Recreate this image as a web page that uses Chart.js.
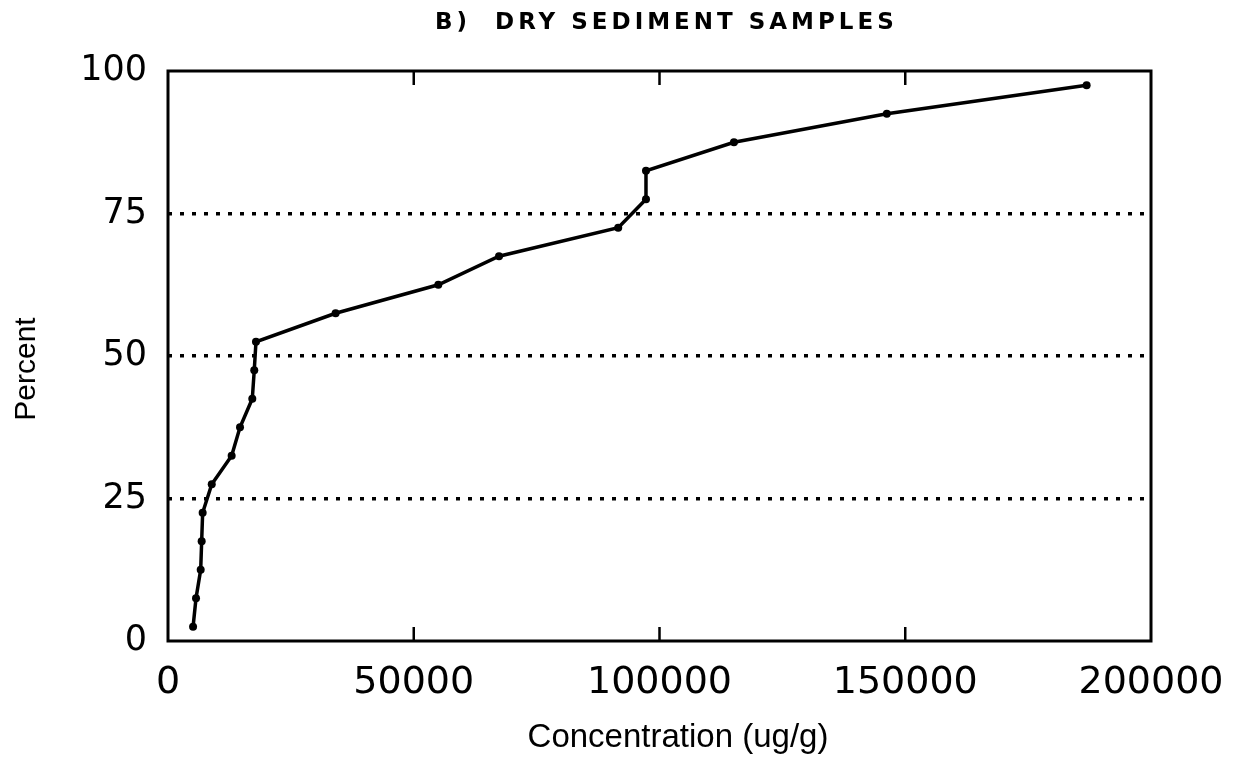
<!DOCTYPE html>
<html>
<head>
<meta charset="utf-8">
<script src="https://cdn.jsdelivr.net/npm/chart.js@4"></script>
<style>
  html, body { margin: 0; padding: 0; background: #fff; }
  #wrap { width: 1235px; height: 764px; }
</style>
</head>
<body>
<div id="wrap"><canvas id="c" width="1235" height="764"></canvas></div>
<script>
const concentration = [5100, 5700, 6650, 6850, 7050, 8900, 12950, 14650, 17150, 17550, 17900, 34100, 55000, 67350, 91600, 97250, 97250, 115150, 146250, 186900];
const percent = [2.5, 7.5, 12.5, 17.5, 22.5, 27.5, 32.5, 37.5, 42.5, 47.5, 52.5, 57.5, 62.5, 67.5, 72.5, 77.5, 82.5, 87.5, 92.5, 97.5];
const xTicks = [0, 50000, 100000, 150000, 200000];
const yTicks = [0, 25, 50, 75, 100];
const chartTitle = 'B)  DRY SEDIMENT SAMPLES';
const xTitle = 'Concentration (ug/g)';
const yTitle = 'Percent';

const points = concentration.map((x, i) => ({ x: x, y: percent[i] }));

const framePlugin = {
  id: 'frame',
  afterDraw(chart) {
    const { ctx, chartArea: a, scales } = chart;
    ctx.save();
    ctx.strokeStyle = '#000';
    ctx.lineWidth = 3;
    ctx.strokeRect(a.left, a.top, a.right - a.left, a.bottom - a.top);
    ctx.lineWidth = 2.5;
    xTicks.slice(1, -1).forEach(v => {
      const px = scales.x.getPixelForValue(v);
      ctx.beginPath();
      ctx.moveTo(px, a.top); ctx.lineTo(px, a.top + 14);
      ctx.moveTo(px, a.bottom); ctx.lineTo(px, a.bottom - 14);
      ctx.stroke();
    });
    ctx.fillStyle = '#000';
    ctx.font = '33px "Liberation Sans"';
    ctx.textAlign = 'center';
    ctx.textBaseline = 'middle';
    ctx.fillText(xTitle, 678, 738);
    ctx.save();
    ctx.translate(27, 369);
    ctx.rotate(-Math.PI / 2);
    ctx.font = '30px "Liberation Sans"';
    ctx.fillText(yTitle, 0, 0);
    ctx.restore();
    ctx.font = 'bold 23px "DejaVu Sans"';
    if ('letterSpacing' in ctx) ctx.letterSpacing = '4px';
    ctx.textAlign = 'left';
    ctx.textBaseline = 'alphabetic';
    ctx.fillText(chartTitle, 435, 29);
    ctx.restore();
  }
};

new Chart(document.getElementById('c'), {
  type: 'line',
  data: {
    datasets: [{
      data: points,
      borderColor: '#000',
      backgroundColor: '#000',
      borderWidth: 3.5,
      pointRadius: 4,
      pointBackgroundColor: '#000',
      pointBorderWidth: 0,
      tension: 0,
      fill: false
    }]
  },
  options: {
    responsive: false,
    animation: false,
    layout: { padding: { left: 0, right: 84, top: 71, bottom: 0 } },
    plugins: { legend: { display: false }, tooltip: { enabled: false }, title: { display: false } },
    scales: {
      x: {
        type: 'linear',
        min: 0, max: 200000,
        afterFit(s) { s.height = 123; s.paddingLeft = 0; s.paddingRight = 0; },
        afterBuildTicks(s) { s.ticks = xTicks.map(v => ({ value: v })); },
        border: { display: false },
        grid: { display: false, drawTicks: false },
        ticks: {
          color: '#000', padding: 19,
          font: { family: 'DejaVu Sans', size: 38 },
          callback: v => String(v),
          maxRotation: 0, autoSkip: false
        }
      },
      y: {
        type: 'linear',
        min: 0, max: 100,
        afterFit(s) { s.width = 168; s.paddingTop = 0; s.paddingBottom = 0; },
        afterBuildTicks(s) { s.ticks = yTicks.map(v => ({ value: v })); },
        border: { display: false, dash: [4, 8] },
        grid: {
          drawTicks: false,
          color: c => (c.tick && c.tick.value > 0 && c.tick.value < 100) ? '#000' : 'rgba(0,0,0,0)',
          lineWidth: 3.5
        },
        ticks: {
          color: '#000', padding: 21,
          font: { family: 'DejaVu Sans', size: 35 },
          autoSkip: false
        }
      }
    }
  },
  plugins: [framePlugin]
});
</script>
</body>
</html>
